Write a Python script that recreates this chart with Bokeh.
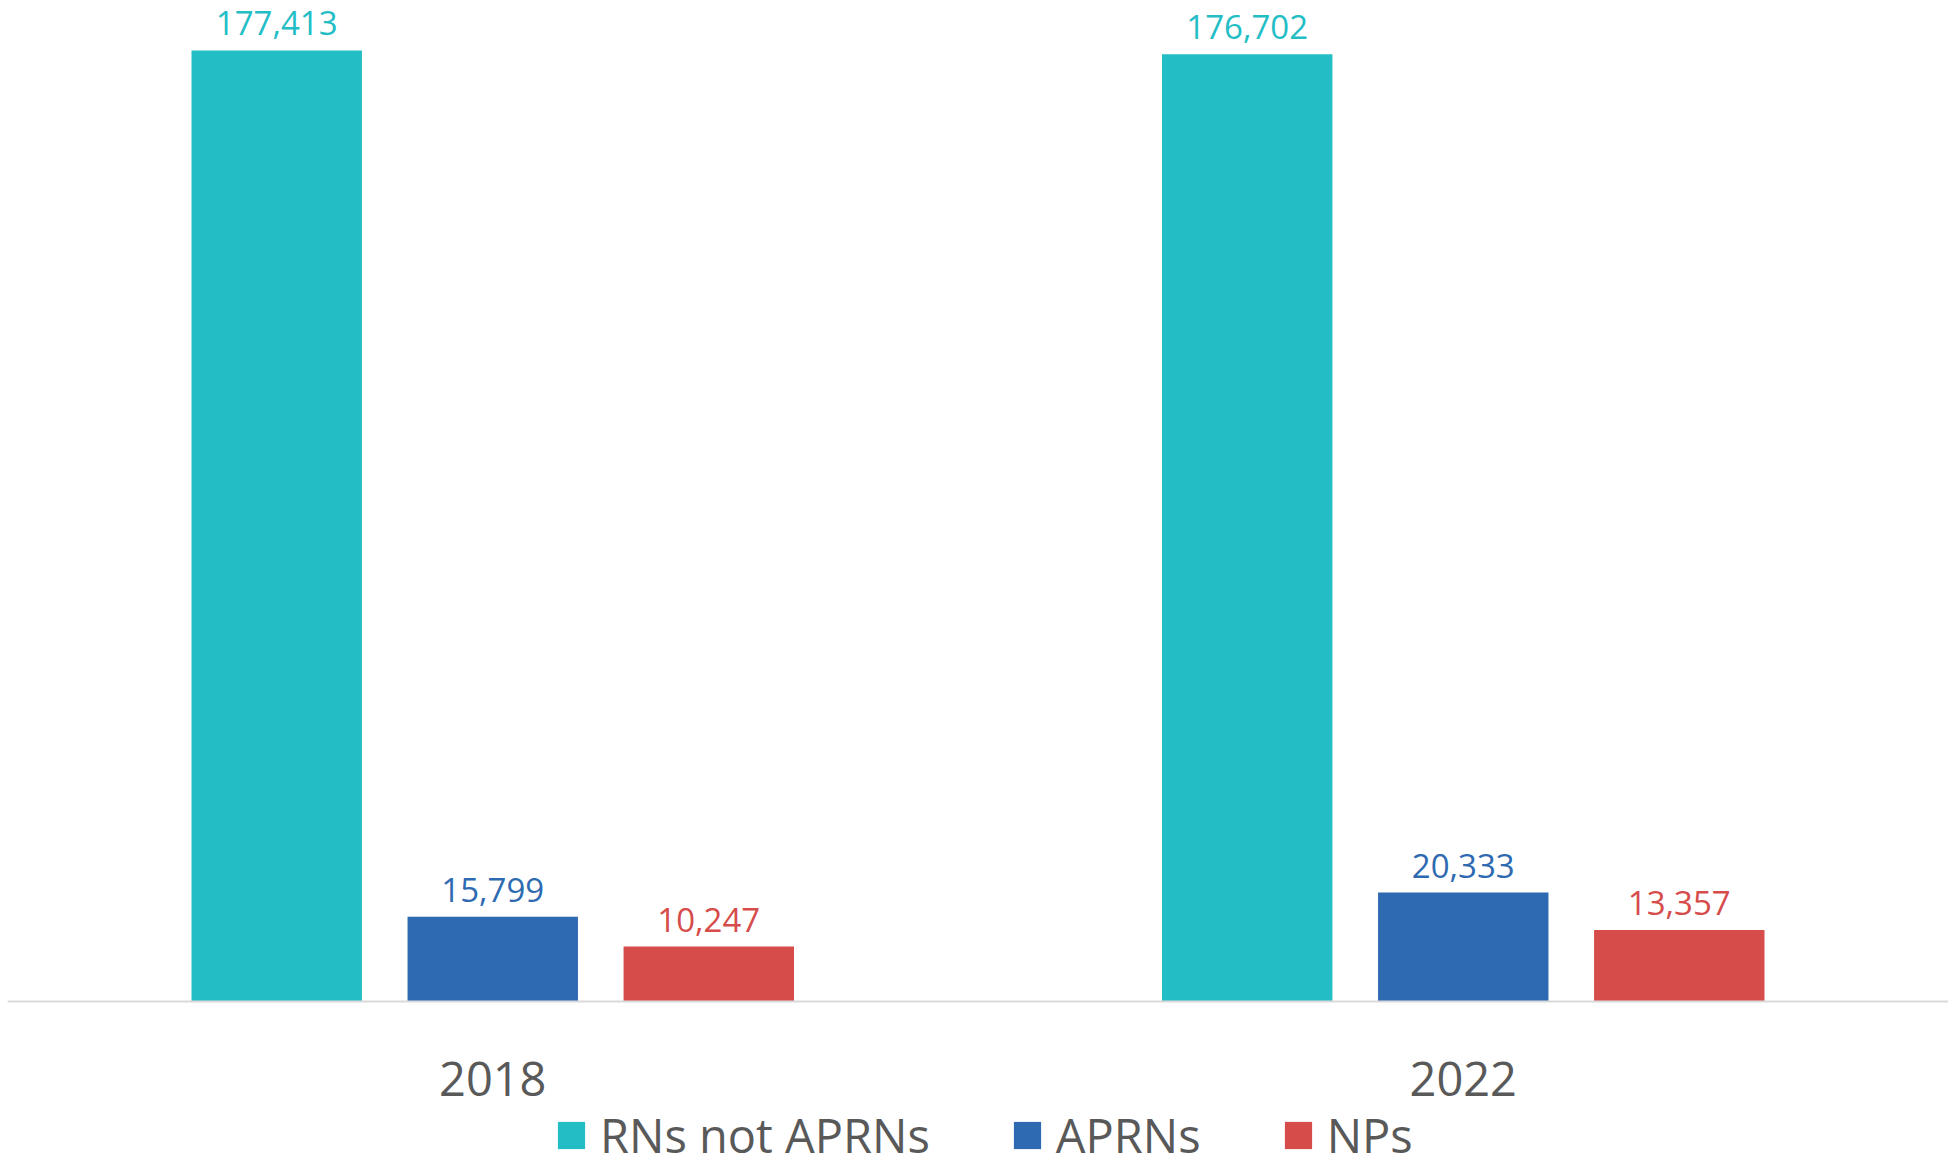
from bokeh.plotting import figure
from bokeh.models import ColumnDataSource, FactorRange, Range1d, Legend, LegendItem, Span
from bokeh.transform import dodge
from bokeh.core.properties import value
from bokeh.embed import file_html
from bokeh.resources import INLINE

years = ["2018", "2022"]
series = ["RNs not APRNs", "APRNs", "NPs"]
rns_not_aprns = [177413, 176702]
aprns = [15799, 20333]
nps = [10247, 13357]

colors = ["#23BDC6", "#2E6AB1", "#D64C4B"]
offsets = [-0.2226, 0.0, 0.2226]
bar_width = 0.1756
FONT = "Open Sans"
GREY = "#595959"

# y range: top of plot ~186,740; room under the baseline for year labels + legend
p = figure(
    x_range=FactorRange(factors=years, range_padding=0),
    y_range=Range1d(-30968, 186740),
    width=1948, height=1167,
    output_backend="svg", toolbar_location=None,
    min_border_left=7, min_border_right=0, min_border_top=0, min_border_bottom=0,
)
p.outline_line_color = None
p.xgrid.visible = False
p.ygrid.visible = False
p.axis.visible = False
p.background_fill_color = "white"
p.border_fill_color = "white"

# category baseline
p.add_layout(Span(location=0, dimension="width", line_color="#D9D9D9", line_width=2))

items = []
for name, vals, col, off in zip(series, [rns_not_aprns, aprns, nps], colors, offsets):
    src = ColumnDataSource(dict(year=years, val=vals, lbl=[f"{v:,}" for v in vals]))
    r = p.vbar(x=dodge("year", off, range=p.x_range), top="val", width=bar_width,
               source=src, fill_color=col, line_color=None)
    p.text(x=dodge("year", off, range=p.x_range), y="val", text="lbl", source=src,
           text_align="center", text_baseline="alphabetic", y_offset=-27,
           text_color=col, text_font=value(FONT), text_font_size="33px")
    items.append(LegendItem(label=name, renderers=[r]))

# category (year) labels under the baseline
ysrc = ColumnDataSource(dict(year=years, base=[0] * len(years)))
p.text(x="year", y="base", text="year", source=ysrc,
       text_align="center", text_baseline="alphabetic", y_offset=78,
       text_color=GREY, text_font=value(FONT), text_font_size="47px")

legend = Legend(items=items, orientation="horizontal", location=(547, 0),
                glyph_width=34, glyph_height=34, label_standoff=12, spacing=80,
                label_text_font=FONT, label_text_font_size="47px",
                label_text_color=GREY, border_line_color=None,
                background_fill_alpha=0, padding=0, margin=0)
p.add_layout(legend, "center")

open("out.html", "w").write(file_html(p, INLINE))
